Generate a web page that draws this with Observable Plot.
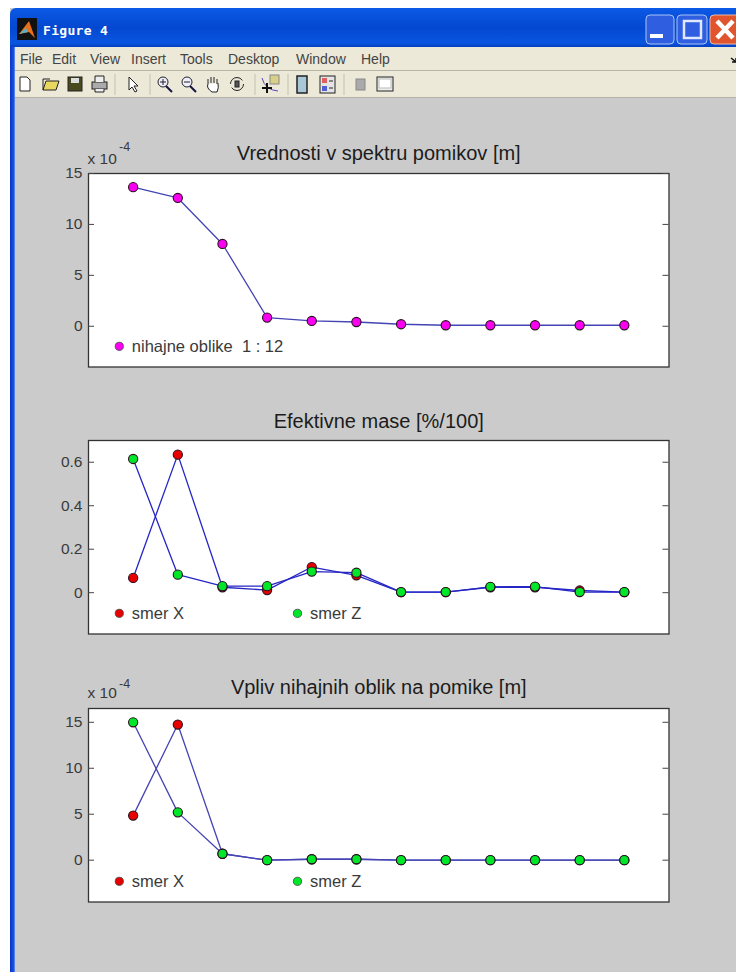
<!DOCTYPE html>
<html><head><meta charset="utf-8">
<script src="https://cdn.jsdelivr.net/npm/d3@7"></script>
<script src="https://cdn.jsdelivr.net/npm/@observablehq/plot@0.6"></script>
<style>
html,body{margin:0;padding:0;background:#fff;width:736px;height:972px;overflow:hidden;font-family:"Liberation Sans",Arial,sans-serif}
.abs{position:absolute}
#win{position:absolute;left:10px;top:8px;right:0;bottom:0;background:#cbcbcb}
#blue{position:absolute;left:10px;top:47px;width:5px;bottom:0;background:linear-gradient(90deg,#0a35c8,#1a4fe0 70%,#6f9af0)}
#titlebar{position:absolute;left:10px;top:8px;right:0;height:39px;background:linear-gradient(180deg,#0a5ae8 0%,#0a55e0 12%,#0348d0 50%,#0a55e0 90%,#0440c0 100%);border-radius:6px 0 0 0}
#menu{position:absolute;left:15px;top:47px;right:0;height:23px;background:#ece9d8;border-bottom:1px solid #b8b5a6}
#tool{position:absolute;left:15px;top:71px;right:0;height:26px;background:#ece9d8;border-bottom:1px solid #b4b2a6}
.m{position:absolute;top:50px;font-size:14px;color:#444;line-height:18px;white-space:pre}
#figTitle{position:absolute;left:43px;top:21px;color:#fff;font:bold 13px/20px "DejaVu Sans Mono","DejaVu Sans",monospace;letter-spacing:.3px}
#panels svg{position:absolute;left:0;background:transparent;overflow:visible}
</style></head><body>
<div id="win"></div><div id="blue"></div><div id="titlebar"></div><div id="menu"></div><div id="tool"></div>
<div id="figTitle">Figure 4</div>
<svg class="abs" style="left:0;top:0" width="736" height="100" id="chrome">
 <rect x="17" y="18" width="20" height="22" fill="#111"/><path d="M19 34 L29 21 L35 38 L29 32 Z" fill="#e8701a"/><path d="M19 34 L26 28 L28 32 Z" fill="#5ab0c8"/>
 <g><rect x="646" y="15" width="28" height="29" rx="4" fill="#2f5fe0" stroke="#a9c4f5"/><rect x="650" y="34" width="13" height="4" fill="#fff"/>
 <rect x="677" y="15" width="30" height="29" rx="4" fill="#2f5fe0" stroke="#a9c4f5"/><rect x="684" y="21" width="17" height="17" fill="none" stroke="#dfe8ff" stroke-width="2.5"/>
 <rect x="710" y="15" width="30" height="29" rx="4" fill="#e0552e" stroke="#f3b8a0"/><path d="M717 21 L733 38 M733 21 L717 38" stroke="#fff" stroke-width="4.5"/></g>
 <path d="M731 58 L736 62 M736 58 L736 62 L732 62" stroke="#111" stroke-width="1.5" fill="none"/>
 <g fill="none" stroke="#222">
  <path d="M20 77 H27 L30 80 V91 H20 Z" fill="#fff"/>
  <path d="M43 90 L46 81 H59 L56 90 Z" fill="#e8d860"/><path d="M43 90 V79 H50" />
  <rect x="68" y="77" width="14" height="14" fill="#4a4a20"/><rect x="71" y="78" width="8" height="5" fill="#ddd" stroke="none"/>
  <rect x="92" y="82" width="15" height="7" fill="#aaa"/><path d="M95 82 V76 H104 V82 M95 89 V92 H104 V89" fill="#eee"/>
  <path d="M129 77 V90 L132 87 L135 92 L137 91 L134 86 L138 86 Z" fill="#fff"/>
  <circle cx="163" cy="82" r="5" fill="#eef"/><path d="M166 86 L172 92" stroke="#114" stroke-width="2"/><path d="M160 82 H166 M163 79 V85" />
  <circle cx="187" cy="82" r="5" fill="#eef"/><path d="M190 86 L196 92" stroke="#114" stroke-width="2"/><path d="M184 82 H190" />
  <path d="M208 84 V79 M211 83 V77 M214 83 V77 M217 84 V79 M208 84 Q206 88 212 92 H217 Q219 88 218 83" fill="#fff"/>
  <circle cx="237" cy="84" r="6.5" stroke-dasharray="16 4"/><rect x="235" y="81" width="4" height="6" fill="#555"/>
  <rect x="270" y="75" width="9" height="9" fill="#d8cf88" stroke="#888"/><path d="M262 78 Q265 90 278 91" stroke="#6040c0"/><path d="M267 83 V93 M262 88 H272" stroke="#111" stroke-width="2"/>
  <rect x="297" y="76" width="10" height="17" fill="#a8c8d8" stroke="#222" stroke-width="1.5"/>
  <rect x="320" y="76" width="15" height="17" fill="#e4e4e4"/><rect x="322" y="78" width="5" height="5" fill="#e06060" stroke="none"/><rect x="322" y="86" width="5" height="5" fill="#5060d0" stroke="none"/><path d="M329 81 H333 M329 88 H333"/>
  <rect x="356" y="79" width="9" height="11" fill="#aaa" stroke="#888"/>
  <rect x="377" y="77" width="16" height="14" fill="#eee"/><rect x="379" y="79" width="12" height="9" fill="#fff" stroke="#bbb"/>
 </g>
 <path d="M115 74 V95 M150 74 V95 M255 74 V95 M288 74 V95 M344 74 V95" stroke="#c4c1b2"/>
</svg>
<div id="panels"></div>
<script>
// Menu and window text
const menuNames = ["File","Edit","View","Insert","Tools","Desktop","Window","Help"];
const menuLefts = [20,52,90,131,180,228,296,361];

// Shared abscissa: mode number 1..12
const modes = [1,2,3,4,5,6,7,8,9,10,11,12];

// Panel 1: values in displacement spectrum (×1e-4 m)
const spectrum = [13.66,12.6,8.08,0.85,0.52,0.42,0.2,0.1,0.1,0.1,0.1,0.1];
// Panel 2: effective masses
const massX = [0.068,0.635,0.025,0.012,0.118,0.08,0.003,0.003,0.025,0.025,0.01,0.003];
const massZ = [0.615,0.083,0.03,0.03,0.097,0.092,0.003,0.003,0.027,0.028,0.003,0.003];
// Panel 3: influence of mode shapes on displacements (×1e-4 m)
const inflX = [4.85,14.75,0.7,0,0.1,0.1,0,0,0,0,0,0];
const inflZ = [15,5.2,0.7,0,0.1,0.1,0,0,0,0,0,0];

const titles = ["Vrednosti v spektru pomikov [m]","Efektivne mase [%/100]","Vpliv nihajnih oblik na pomike [m]"];
const titleDy = [-14,-13,-15];
const ticks1 = [0,5,10,15], ticks2 = [0,0.2,0.4,0.6], ticks3 = [0,5,10,15];
const xDomain = [0,13];
const yDomains = [[-4,15],[-0.19,0.7],[-4.55,16.5]];
const tops = [172.5,440,708];
const legendY = [-1.97,-0.095,-2.3];
const legendX = [0.69,4.68];
const legendLabels = ["nihajne oblike\u00a0\u00a01 : 12","smer X","smer Z"];
const RED="#e60000", GREEN="#00e628", MAG="#fa00f0";

const W=736, ML=88, MR=67.5, MT=40, MB=10, H=193.5;
const ink="#3a3a3a";

function panel(i, series, ticks, legend, exp){
  const rows = series.flatMap(s=>s.values.map((v,k)=>({x:modes[k],y:v,s:s.name})));
  const colorOf = Object.fromEntries(series.map(s=>[s.name,s.color]));
  const marks = [
    Plot.frame({fill:"#fff",stroke:"#333",strokeWidth:1.3}),
    Plot.tickY(ticks,{y:d=>d,insetRight:W-ML-MR-6,stroke:"#444"}),
    Plot.tickY(ticks,{y:d=>d,insetLeft:W-ML-MR-6,stroke:"#444"}),
    Plot.axisY(ticks,{tickSize:0,tickPadding:6,fontSize:15.5,fill:ink,label:null,tickFormat:d=>String(d)}),
    Plot.line(rows,{x:"x",y:"y",z:"s",stroke:i===1?"#2626c4":"#4444b4",strokeWidth:1.3,curve:"linear"}),
    Plot.dot(rows,{x:"x",y:"y",r:4.6,fill:d=>colorOf[d.s],stroke:"#2a1020",strokeWidth:1.1}),
    Plot.dot(legend,{x:"x",y:"y",r:4.1,fill:"color",stroke:"#444",strokeWidth:.8}),
    Plot.text(legend,{x:"x",y:"y",text:"label",textAnchor:"start",dx:12.5,dy:0,fontSize:16.5,fill:ink}),
    Plot.text([titles[i]],{frameAnchor:"top",lineAnchor:"bottom",dy:titleDy[i],fontSize:20,fill:"#1c1c1c"})
  ];
  if(exp){
    marks.push(Plot.text(["x 10"],{frameAnchor:"top-left",lineAnchor:"bottom",textAnchor:"start",dx:-1,dy:exp[0],fontSize:15.5,fill:ink}));
    marks.push(Plot.text(["-4"],{frameAnchor:"top-left",lineAnchor:"bottom",textAnchor:"start",dx:30.5,dy:exp[1],fontSize:12.5,fill:ink}));
  }
  const svg = Plot.plot({
    width:W,height:MT+H+MB,marginLeft:ML,marginRight:MR,marginTop:MT,marginBottom:MB,
    x:{domain:xDomain,axis:null},
    y:{domain:yDomains[i],axis:null},
    color:{type:"identity"},
    style:{background:"transparent",fontFamily:'"Liberation Sans",Arial,sans-serif'},
    marks
  });
  svg.style.top=(tops[i]-MT)+"px";
  document.getElementById("panels").append(svg);
}

menuNames.forEach((n,i)=>{const d=document.createElement("div");d.className="m";d.style.left=menuLefts[i]+"px";d.textContent=n;document.body.append(d);});

panel(0,[{name:"p",values:spectrum,color:MAG}],ticks1,
  [{x:legendX[0],y:legendY[0],label:legendLabels[0],color:MAG}],[-10,-23]);
panel(1,[{name:"x",values:massX,color:RED},{name:"z",values:massZ,color:GREEN}],ticks2,
  [{x:legendX[0],y:legendY[1],label:legendLabels[1],color:RED},{x:legendX[1],y:legendY[1],label:legendLabels[2],color:GREEN}],null);
panel(2,[{name:"x",values:inflX,color:RED},{name:"z",values:inflZ,color:GREEN}],ticks3,
  [{x:legendX[0],y:legendY[2],label:legendLabels[1],color:RED},{x:legendX[1],y:legendY[2],label:legendLabels[2],color:GREEN}],[-11,-21]);
</script>
</body></html>
